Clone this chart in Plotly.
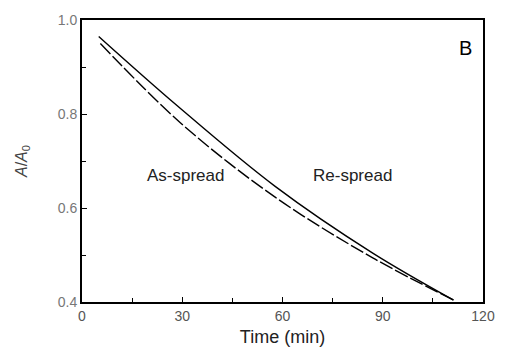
import plotly.graph_objects as go

# Upper curve (solid)
t_upper = [5, 28.6, 57.8, 87, 111.2]
a_upper = [0.965, 0.817, 0.646, 0.504, 0.404]
# Lower curve (dashed)
t_lower = [5.5, 29.5, 57.8, 87, 111.2]
a_lower = [0.95, 0.781, 0.623, 0.494, 0.404]

x_ticks = [0, 30, 60, 90, 120]
x_ticklabels = ["0", "30", "60", "90", "120"]
y_ticks = [0.4, 0.6, 0.8, 1.0]
y_ticklabels = ["0.4", "0.6", "0.8", "1.0"]

font = "Liberation Sans, Arial, sans-serif"

fig = go.Figure()
fig.add_trace(go.Scatter(x=t_upper, y=a_upper, mode="lines", line=dict(color="black", width=1.4, shape="spline", smoothing=1), showlegend=False))
fig.add_trace(go.Scatter(x=t_lower, y=a_lower, mode="lines", line=dict(color="black", width=1.4, dash="14px,3px", shape="spline", smoothing=1), showlegend=False))

fig.add_annotation(x=31, y=0.67, text="As-spread", showarrow=False, font=dict(size=17, color="#222", family=font))
fig.add_annotation(x=81, y=0.67, text="Re-spread", showarrow=False, font=dict(size=17, color="#222", family=font))
fig.add_annotation(x=114.7, y=0.94, text="B", showarrow=False, font=dict(size=20, color="black", family=font))

fig.update_layout(
    width=507, height=356,
    margin=dict(l=82, r=14, t=18, b=51),
    plot_bgcolor="white", paper_bgcolor="white",
    font=dict(family=font),
)
fig.update_xaxes(
    range=[0, 120], tickvals=x_ticks, ticktext=x_ticklabels,
    ticks="inside", ticklen=5, tickwidth=1.2, tickcolor="black",
    minor=dict(tickvals=[15, 45, 75, 105], ticks="inside", ticklen=4, tickcolor="black"),
    showline=True, linecolor="black", linewidth=2, mirror=True,
    showgrid=False, zeroline=False,
    tickfont=dict(size=14, color="#555"),
    title=dict(text="Time (min)", font=dict(size=18, color="#222"), standoff=8),
)
fig.update_yaxes(
    range=[0.4, 1.0], tickvals=y_ticks, ticktext=y_ticklabels,
    ticks="inside", ticklen=5, tickwidth=1.2, tickcolor="black",
    minor=dict(tickvals=[0.5, 0.7, 0.9], ticks="inside", ticklen=4, tickcolor="black"),
    showline=True, linecolor="black", linewidth=2, mirror=True,
    showgrid=False, zeroline=False,
    tickfont=dict(size=14, color="#777"),
    title=dict(text="<i>A</i>/<i>A</i><sub>0</sub>", font=dict(size=16, color="#444"), standoff=26),
)

fig.write_html("out.html")
